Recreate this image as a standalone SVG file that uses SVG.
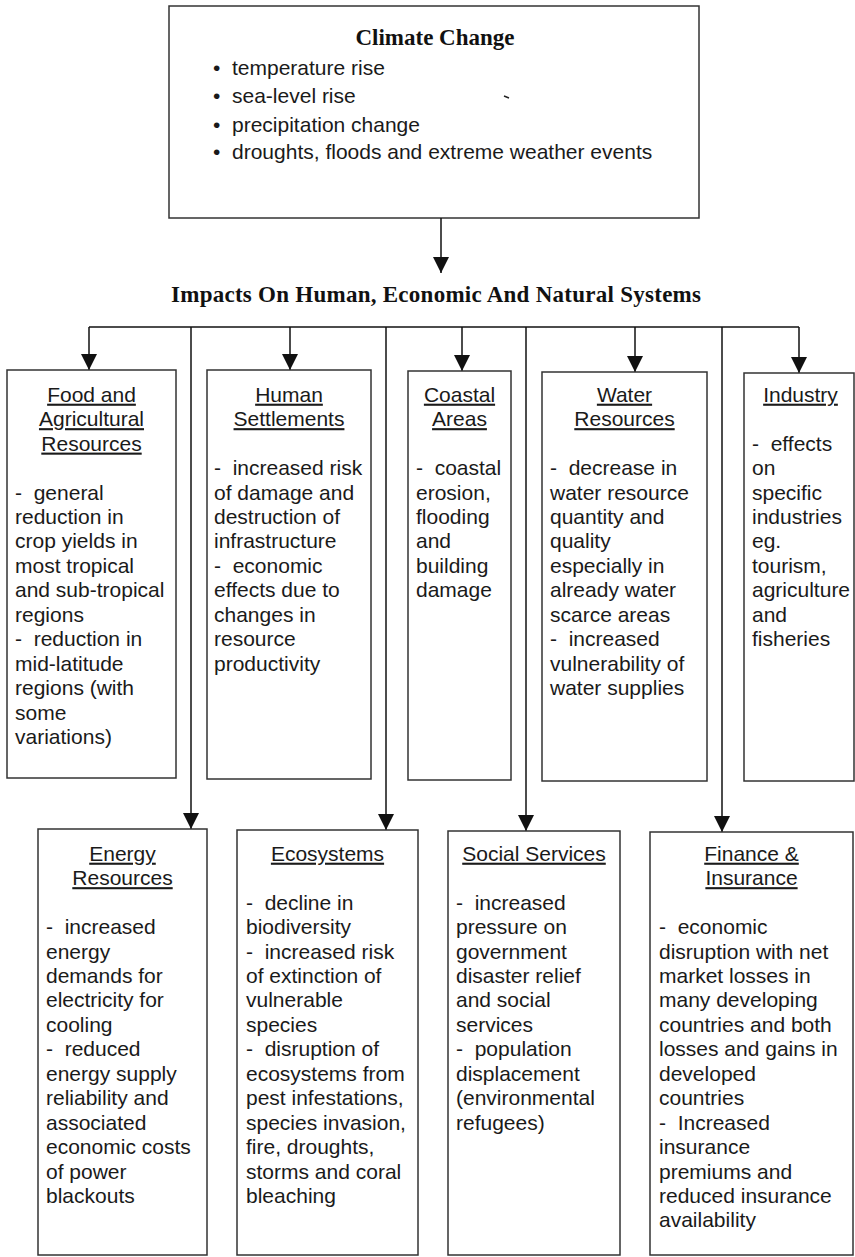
<svg xmlns="http://www.w3.org/2000/svg" width="855" height="1257" viewBox="0 0 855 1257">
<style>
.box{fill:#fff;stroke:#333;stroke-width:1.5}
.conn{stroke:#111;stroke-width:1.5;fill:none}
.t{font-family:"Liberation Sans",Arial,sans-serif;font-size:21px;fill:#1a1a1a;white-space:pre}
.h{font-family:"Liberation Sans",Arial,sans-serif;font-size:21px;fill:#1a1a1a;text-anchor:middle;text-decoration:underline}
.ttl{font-family:"Liberation Serif","Times New Roman",serif;font-size:23px;font-weight:bold;fill:#111;text-anchor:middle}
</style>
<defs>
<marker id="arr" markerUnits="userSpaceOnUse" markerWidth="16" markerHeight="16" viewBox="0 0 14 14" refX="14" refY="7" orient="auto">
<path d="M0,0 L14,7 L0,14 Z" fill="#111"/>
</marker>
</defs>
<rect width="855" height="1257" fill="#fff"/>

<g id="climate-change">
<rect class="box" x="169" y="6" width="530" height="212"/>
<text class="ttl" x="435" y="45">Climate Change</text>
<text class="t" x="213" y="75">•</text><text class="t" x="232" y="75">temperature rise</text>
<text class="t" x="213" y="103">•</text><text class="t" x="232" y="103">sea-level rise</text>
<text class="t" x="213" y="131.5">•</text><text class="t" x="232" y="131.5">precipitation change</text>
<text class="t" x="213" y="159">•</text><text class="t" x="232" y="159">droughts, floods and extreme weather events</text>
<line x1="504" y1="96" x2="509" y2="98" stroke="#222" stroke-width="1.5"/>
</g>

<g id="impacts-title">
<text class="ttl" x="436" y="302" textLength="530" lengthAdjust="spacing">Impacts On Human, Economic And Natural Systems</text>
</g>

<g id="connectors">
<line class="conn" x1="441" y1="218" x2="441" y2="273" marker-end="url(#arr)"/>
<line class="conn" x1="89" y1="327" x2="799" y2="327" stroke-width="2"/>
<line class="conn" x1="89" y1="327" x2="89" y2="370" marker-end="url(#arr)"/>
<line class="conn" x1="290" y1="327" x2="290" y2="370" marker-end="url(#arr)"/>
<line class="conn" x1="462" y1="327" x2="462" y2="371" marker-end="url(#arr)"/>
<line class="conn" x1="635" y1="327" x2="635" y2="372" marker-end="url(#arr)"/>
<line class="conn" x1="799" y1="327" x2="799" y2="373" marker-end="url(#arr)"/>
<line class="conn" x1="191" y1="327" x2="191" y2="829" marker-end="url(#arr)"/>
<line class="conn" x1="386" y1="327" x2="386" y2="830" marker-end="url(#arr)"/>
<line class="conn" x1="526" y1="327" x2="526" y2="831" marker-end="url(#arr)"/>
<line class="conn" x1="722" y1="327" x2="722" y2="832" marker-end="url(#arr)"/>
</g>

<g id="food">
<rect class="box" x="7" y="370" width="169" height="408"/>
<text class="h" x="91.5" y="401.7">Food and</text>
<text class="h" x="91.5" y="426.15">Agricultural</text>
<text class="h" x="91.5" y="450.6">Resources</text>
<text class="t" x="15"><tspan x="15" y="499.5">-  general</tspan><tspan x="15" y="523.95">reduction in</tspan><tspan x="15" y="548.4">crop yields in</tspan><tspan x="15" y="572.85">most tropical</tspan><tspan x="15" y="597.3">and sub-tropical</tspan><tspan x="15" y="621.75">regions</tspan><tspan x="15" y="646.2">-  reduction in</tspan><tspan x="15" y="670.65">mid-latitude</tspan><tspan x="15" y="695.1">regions (with</tspan><tspan x="15" y="719.55">some</tspan><tspan x="15" y="744">variations)</tspan></text>
</g>

<g id="human-settlements">
<rect class="box" x="207" y="370" width="164" height="409"/>
<text class="h" x="289" y="401.7">Human</text>
<text class="h" x="289" y="426.15">Settlements</text>
<text class="t"><tspan x="214" y="475.05">-  increased risk</tspan><tspan x="214" y="499.5">of damage and</tspan><tspan x="214" y="523.95">destruction of</tspan><tspan x="214" y="548.4">infrastructure</tspan><tspan x="214" y="572.85">-  economic</tspan><tspan x="214" y="597.3">effects due to</tspan><tspan x="214" y="621.75">changes in</tspan><tspan x="214" y="646.2">resource</tspan><tspan x="214" y="670.65">productivity</tspan></text>
</g>

<g id="coastal">
<rect class="box" x="408" y="371" width="103" height="409"/>
<text class="h" x="459.5" y="401.7">Coastal</text>
<text class="h" x="459.5" y="426.15">Areas</text>
<text class="t"><tspan x="416" y="475.05">-  coastal</tspan><tspan x="416" y="499.5">erosion,</tspan><tspan x="416" y="523.95">flooding</tspan><tspan x="416" y="548.4">and</tspan><tspan x="416" y="572.85">building</tspan><tspan x="416" y="597.3">damage</tspan></text>
</g>

<g id="water">
<rect class="box" x="542" y="372" width="165" height="409"/>
<text class="h" x="624.5" y="401.7">Water</text>
<text class="h" x="624.5" y="426.15">Resources</text>
<text class="t"><tspan x="550" y="475.05">-  decrease in</tspan><tspan x="550" y="499.5">water resource</tspan><tspan x="550" y="523.95">quantity and</tspan><tspan x="550" y="548.4">quality</tspan><tspan x="550" y="572.85">especially in</tspan><tspan x="550" y="597.3">already water</tspan><tspan x="550" y="621.75">scarce areas</tspan><tspan x="550" y="646.2">-  increased</tspan><tspan x="550" y="670.65">vulnerability of</tspan><tspan x="550" y="695.1">water supplies</tspan></text>
</g>

<g id="industry">
<rect class="box" x="744" y="373" width="110" height="408"/>
<text class="h" x="800.5" y="401.7">Industry</text>
<text class="t"><tspan x="752" y="450.6">-  effects</tspan><tspan x="752" y="475.05">on</tspan><tspan x="752" y="499.5">specific</tspan><tspan x="752" y="523.95">industries</tspan><tspan x="752" y="548.4">eg.</tspan><tspan x="752" y="572.85">tourism,</tspan><tspan x="752" y="597.3">agriculture</tspan><tspan x="752" y="621.75">and</tspan><tspan x="752" y="646.2">fisheries</tspan></text>
</g>

<g id="energy">
<rect class="box" x="38" y="829" width="169" height="426"/>
<text class="h" x="122.5" y="860.7">Energy</text>
<text class="h" x="122.5" y="885.15">Resources</text>
<text class="t"><tspan x="46" y="934.05">-  increased</tspan><tspan x="46" y="958.5">energy</tspan><tspan x="46" y="982.95">demands for</tspan><tspan x="46" y="1007.4">electricity for</tspan><tspan x="46" y="1031.85">cooling</tspan><tspan x="46" y="1056.3">-  reduced</tspan><tspan x="46" y="1080.75">energy supply</tspan><tspan x="46" y="1105.2">reliability and</tspan><tspan x="46" y="1129.65">associated</tspan><tspan x="46" y="1154.1">economic costs</tspan><tspan x="46" y="1178.55">of power</tspan><tspan x="46" y="1203">blackouts</tspan></text>
</g>

<g id="ecosystems">
<rect class="box" x="237" y="830" width="181" height="425"/>
<text class="h" x="327.5" y="860.7">Ecosystems</text>
<text class="t"><tspan x="246" y="909.6">-  decline in</tspan><tspan x="246" y="934.05">biodiversity</tspan><tspan x="246" y="958.5">-  increased risk</tspan><tspan x="246" y="982.95">of extinction of</tspan><tspan x="246" y="1007.4">vulnerable</tspan><tspan x="246" y="1031.85">species</tspan><tspan x="246" y="1056.3">-  disruption of</tspan><tspan x="246" y="1080.75">ecosystems from</tspan><tspan x="246" y="1105.2">pest infestations,</tspan><tspan x="246" y="1129.65">species invasion,</tspan><tspan x="246" y="1154.1">fire, droughts,</tspan><tspan x="246" y="1178.55">storms and coral</tspan><tspan x="246" y="1203">bleaching</tspan></text>
</g>

<g id="social-services">
<rect class="box" x="448" y="831" width="172" height="424"/>
<text class="h" x="534" y="860.7">Social Services</text>
<text class="t"><tspan x="456" y="909.6">-  increased</tspan><tspan x="456" y="934.05">pressure on</tspan><tspan x="456" y="958.5">government</tspan><tspan x="456" y="982.95">disaster relief</tspan><tspan x="456" y="1007.4">and social</tspan><tspan x="456" y="1031.85">services</tspan><tspan x="456" y="1056.3">-  population</tspan><tspan x="456" y="1080.75">displacement</tspan><tspan x="456" y="1105.2">(environmental</tspan><tspan x="456" y="1129.65">refugees)</tspan></text>
</g>

<g id="finance">
<rect class="box" x="650" y="832" width="203" height="423"/>
<text class="h" x="751.5" y="860.7">Finance &amp;</text>
<text class="h" x="751.5" y="885.15">Insurance</text>
<text class="t"><tspan x="659" y="934.05">-  economic</tspan><tspan x="659" y="958.5">disruption with net</tspan><tspan x="659" y="982.95">market losses in</tspan><tspan x="659" y="1007.4">many developing</tspan><tspan x="659" y="1031.85">countries and both</tspan><tspan x="659" y="1056.3">losses and gains in</tspan><tspan x="659" y="1080.75">developed</tspan><tspan x="659" y="1105.2">countries</tspan><tspan x="659" y="1129.65">-  Increased</tspan><tspan x="659" y="1154.1">insurance</tspan><tspan x="659" y="1178.55">premiums and</tspan><tspan x="659" y="1203">reduced insurance</tspan><tspan x="659" y="1227.45">availability</tspan></text>
</g>
</svg>
